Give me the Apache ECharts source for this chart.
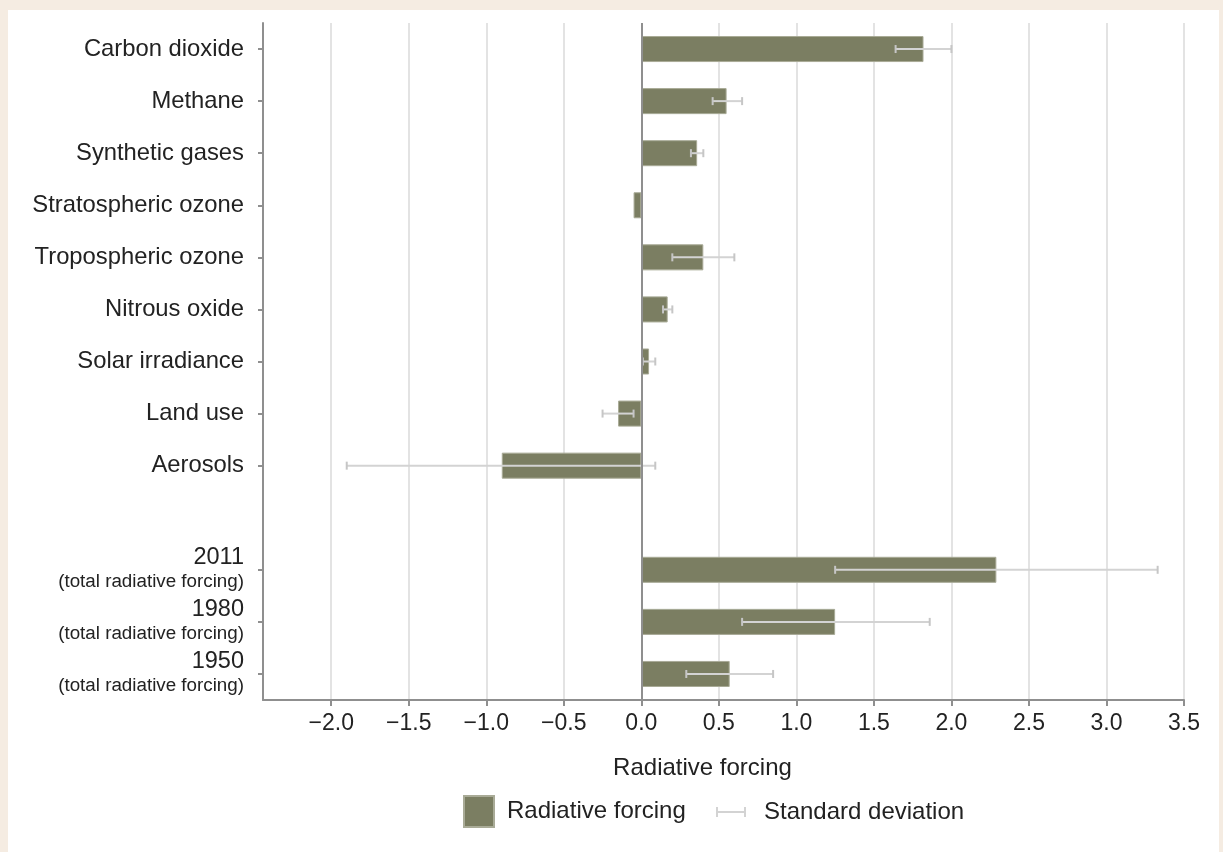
<!DOCTYPE html>
<html>
<head>
<meta charset="utf-8">
<title>Radiative forcing</title>
<script src="https://cdn.jsdelivr.net/npm/echarts@6/dist/echarts.min.js"></script>
<style>
  html, body { margin: 0; padding: 0; background: #f5ece2; }
  #panel { position: absolute; left: 8px; top: 10px; width: 1211px; height: 842px; background: #ffffff; }
  #chart { position: absolute; left: 0; top: 0; width: 1223px; height: 852px; }
</style>
</head>
<body>
<div id="panel"></div>
<div id="chart"></div>
<script>
// Forcing agents, top to bottom; the blank entry separates the totals.
const categories = [
  'Carbon dioxide', 'Methane', 'Synthetic gases', 'Stratospheric ozone',
  'Tropospheric ozone', 'Nitrous oxide', 'Solar irradiance', 'Land use',
  'Aerosols', '', '2011', '1980', '1950'
];
// Radiative forcing (W/m²)
const forcing = [1.82, 0.55, 0.36, -0.05, 0.40, 0.17, 0.05, -0.15, -0.90, null, 2.29, 1.25, 0.57];
// Standard deviation range, low and high ends
const sdLow  = [1.64, 0.46, 0.32, null, 0.20, 0.14, 0.01, -0.25, -1.90, null, 1.25, 0.65, 0.29];
const sdHigh = [2.00, 0.65, 0.40, null, 0.60, 0.20, 0.09, -0.05, 0.09, null, 3.33, 1.86, 0.85];
// Labelled ticks on the forcing axis
const xTicks = [-2.0, -1.5, -1.0, -0.5, 0.0, 0.5, 1.0, 1.5, 2.0, 2.5, 3.0, 3.5];
const xMin = -2.44;
const xMax = 3.5;

const FONT = '"Liberation Sans", Arial, Helvetica, sans-serif';
const TEXT = '#222222';
const AXIS = '#8f8f8f';
const BAR = '#7b7e62';
const ERR = '#d3d3d3';

const errData = [];
categories.forEach((c, i) => {
  if (sdLow[i] != null && sdHigh[i] != null) errData.push([i, sdLow[i], sdHigh[i]]);
});

const chart = echarts.init(document.getElementById('chart'), null, { renderer: 'canvas' });

chart.setOption({
  backgroundColor: 'transparent',
  animation: false,
  textStyle: { fontFamily: FONT, color: TEXT },
  grid: { left: 263, right: 39, top: 23, bottom: 152, containLabel: false },
  legend: [
    {
      data: [{ name: 'Radiative forcing', icon: 'rect' }],
      left: 458, top: 790,
      itemWidth: 30, itemHeight: 31,
      selectedMode: false,
      textStyle: { fontSize: 24, color: TEXT, fontFamily: FONT, padding: [0, 0, 0, 8] }
    },
    {
      data: [{ name: 'Standard deviation', icon: 'path://M0,4h30v2h-30z M0,0h2v10h-2z M28,0h2v10h-2z' }],
      left: 711, top: 795,
      itemWidth: 30, itemHeight: 10,
      selectedMode: false,
      textStyle: { fontSize: 24, color: TEXT, fontFamily: FONT, padding: [0, 0, 0, 13] }
    }
  ],
  xAxis: {
    type: 'value',
    min: xMin,
    max: xMax,
    name: 'Radiative forcing',
    nameLocation: 'middle',
    nameGap: 56,
    nameTextStyle: { fontSize: 24, color: TEXT, fontFamily: FONT, padding: [0, 42, 0, 0] },
    axisLine: { show: true, onZero: false, lineStyle: { color: AXIS, width: 2 } },
    axisTick: { show: true, length: 6, customValues: xTicks, lineStyle: { color: AXIS, width: 2 } },
    axisLabel: {
      customValues: xTicks,
      fontSize: 23,
      color: TEXT,
      margin: 12,
      formatter: v => v.toFixed(1).replace('-', '\u2212')
    },
    splitLine: { show: true, lineStyle: { color: '#dadada', width: 1.5 } }
  },
  yAxis: {
    type: 'category',
    data: categories,
    inverse: true,
    axisLine: { show: true, onZero: false, lineStyle: { color: AXIS, width: 2 } },
    axisTick: {
      show: true,
      alignWithLabel: true,
      length: 5,
      interval: (i, v) => v !== '',
      lineStyle: { color: AXIS, width: 2 }
    },
    axisLabel: {
      interval: 0,
      margin: 19,
      fontSize: 23.8,
      color: TEXT,
      align: 'right',
      formatter: v => /^\d{4}$/.test(v) ? '{yr|' + v + '}\n{sub|(total radiative forcing)}' : v,
      rich: {
        yr: { fontSize: 23.5, lineHeight: 24, color: TEXT, fontFamily: FONT, align: 'right' },
        sub: { fontSize: 18.8, lineHeight: 24, color: TEXT, fontFamily: FONT, align: 'right' }
      }
    },
    splitLine: { show: false }
  },
  series: [
    {
      name: 'Radiative forcing',
      type: 'bar',
      data: forcing.map(v => (v == null ? '-' : v)),
      barWidth: '50%',
      itemStyle: { color: BAR, borderColor: '#a9ab97', borderWidth: 1 },
      markLine: {
        silent: true,
        symbol: ['none', 'none'],
        label: { show: false },
        lineStyle: { color: AXIS, width: 2, type: 'solid' },
        data: [{ xAxis: 0 }]
      },
      z: 2
    },
    {
      name: 'Standard deviation',
      type: 'custom',
      data: errData,
      encode: { x: [1, 2], y: 0 },
      itemStyle: { color: ERR },
      z: 3,
      renderItem: (params, api) => {
        const idx = api.value(0);
        const lo = api.coord([api.value(1), idx]);
        const hi = api.coord([api.value(2), idx]);
        const cap = 4;
        const capStyle = { stroke: '#c6c6c6', lineWidth: 2 };
        return {
          type: 'group',
          children: [
            { type: 'line', shape: { x1: lo[0], y1: lo[1], x2: hi[0], y2: hi[1] }, style: { stroke: ERR, lineWidth: 2 } },
            { type: 'line', shape: { x1: lo[0], y1: lo[1] - cap, x2: lo[0], y2: lo[1] + cap }, style: capStyle },
            { type: 'line', shape: { x1: hi[0], y1: hi[1] - cap, x2: hi[0], y2: hi[1] + cap }, style: capStyle }
          ]
        };
      }
    }
  ]
});
</script>
</body>
</html>
